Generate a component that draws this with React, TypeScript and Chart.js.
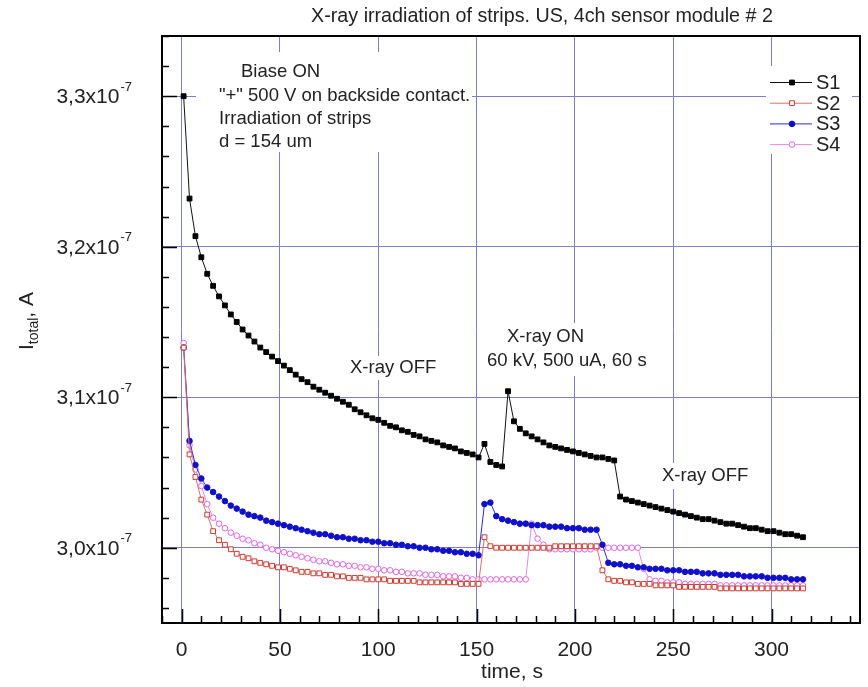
import React, { useEffect, useRef } from "react";
import { Chart, registerables } from "chart.js";

Chart.register(...registerables);

// ---------- data ----------
const TITLE = "X-ray irradiation of strips. US, 4ch sensor module # 2";
const X_TITLE = "time, s";
const X_TICKS = [0, 50, 100, 150, 200, 250, 300];
const Y_TICKS = [3.0, 3.1, 3.2, 3.3];
const Y_TICK_LABELS = ["3,0x10", "3,1x10", "3,2x10", "3,3x10"];
const Y_EXP = "-7";
const SERIES_NAMES = ["S1", "S2", "S3", "S4"];

// time, s
const TIMES = [
  1, 4, 7, 10, 13, 16, 19, 22, 25, 28,
  31, 34, 37, 40, 43, 46, 49, 52, 55, 58,
  61, 64, 67, 70, 73, 76, 79, 82, 85, 88,
  91, 94, 97, 100, 103, 106, 109, 112, 115, 118,
  121, 124, 127, 130, 133, 136, 139, 142, 145, 148,
  151, 154, 157, 160, 163, 166, 169, 172, 175, 178,
  181, 184, 187, 190, 193, 196, 199, 202, 205, 208,
  211, 214, 217, 220, 223, 226, 229, 232, 235, 238,
  241, 244, 247, 250, 253, 256, 259, 262, 265, 268,
  271, 274, 277, 280, 283, 286, 289, 292, 295, 298,
  301, 304, 307, 310, 313, 316,
];

// I_total in units of 1e-7 A
const S1 = [
  3.300, 3.232, 3.207, 3.193, 3.182, 3.174, 3.167, 3.161, 3.155, 3.150,
  3.145, 3.141, 3.137, 3.133, 3.130, 3.127, 3.124, 3.121, 3.118, 3.115,
  3.112, 3.110, 3.107, 3.105, 3.103, 3.101, 3.099, 3.097, 3.095, 3.092,
  3.090, 3.088, 3.086, 3.085, 3.083, 3.081, 3.080, 3.078, 3.077, 3.075,
  3.074, 3.072, 3.071, 3.070, 3.068, 3.067, 3.066, 3.064, 3.063, 3.062,
  3.060, 3.069, 3.057, 3.055, 3.054, 3.104, 3.084, 3.079, 3.076, 3.074,
  3.072, 3.070, 3.068, 3.067, 3.066, 3.065, 3.064, 3.063, 3.062, 3.061,
  3.060, 3.060, 3.059, 3.058, 3.034, 3.032, 3.031, 3.030, 3.029, 3.028,
  3.027, 3.026, 3.025, 3.024, 3.023, 3.022, 3.021, 3.020, 3.019, 3.019,
  3.018, 3.017, 3.016, 3.016, 3.015, 3.014, 3.013, 3.013, 3.012, 3.011,
  3.011, 3.010, 3.009, 3.009, 3.008, 3.007,
];

const S2 = [
  3.133, 3.062, 3.047, 3.032, 3.022, 3.011, 3.005, 3.002, 2.999, 2.996,
  2.994, 2.993, 2.991, 2.990, 2.989, 2.988, 2.987, 2.987, 2.986, 2.985,
  2.984, 2.984, 2.983, 2.983, 2.982, 2.982, 2.981, 2.981, 2.980, 2.980,
  2.980, 2.979, 2.979, 2.979, 2.979, 2.978, 2.978, 2.978, 2.978, 2.978,
  2.977, 2.977, 2.977, 2.977, 2.977, 2.977, 2.977, 2.976, 2.976, 2.976,
  2.976, 3.007, 3.001, 3.000, 3.000, 3.000, 3.000, 3.000, 3.000, 3.000,
  3.000, 3.000, 3.000, 3.001, 3.001, 3.001, 3.001, 3.001, 3.001, 3.001,
  3.001, 2.985, 2.979, 2.978, 2.978, 2.977, 2.977, 2.976, 2.976, 2.976,
  2.975, 2.975, 2.975, 2.975, 2.974, 2.974, 2.974, 2.974, 2.974, 2.974,
  2.974, 2.973, 2.973, 2.973, 2.973, 2.973, 2.973, 2.973, 2.973, 2.973,
  2.973, 2.973, 2.973, 2.973, 2.973, 2.973,
];

const S3 = [
  3.133, 3.071, 3.055, 3.046, 3.040, 3.037, 3.034, 3.031, 3.028, 3.026,
  3.024, 3.022, 3.021, 3.020, 3.018, 3.017, 3.016, 3.015, 3.014, 3.013,
  3.012, 3.011, 3.010, 3.009, 3.009, 3.008, 3.007, 3.007, 3.006, 3.006,
  3.005, 3.005, 3.004, 3.004, 3.003, 3.003, 3.002, 3.002, 3.001, 3.001,
  3.000, 3.000, 2.999, 2.999, 2.998, 2.998, 2.997, 2.997, 2.996, 2.996,
  2.995, 3.029, 3.030, 3.021, 3.019, 3.018, 3.017, 3.016, 3.016, 3.015,
  3.015, 3.015, 3.014, 3.014, 3.014, 3.013, 3.013, 3.013, 3.012, 3.012,
  3.012, 3.002, 2.990, 2.989, 2.989, 2.988, 2.988, 2.987, 2.987, 2.986,
  2.986, 2.986, 2.985, 2.985, 2.985, 2.984, 2.984, 2.984, 2.983, 2.983,
  2.983, 2.982, 2.982, 2.982, 2.982, 2.981, 2.981, 2.981, 2.981, 2.980,
  2.980, 2.980, 2.980, 2.979, 2.979, 2.979,
];

const S4 = [
  3.136, 3.068, 3.052, 3.041, 3.029, 3.020, 3.016, 3.013, 3.010, 3.008,
  3.006, 3.005, 3.003, 3.002, 3.000, 2.999, 2.998, 2.997, 2.996, 2.995,
  2.994, 2.993, 2.992, 2.991, 2.991, 2.990, 2.989, 2.989, 2.988, 2.988,
  2.987, 2.987, 2.986, 2.986, 2.985, 2.985, 2.984, 2.984, 2.983, 2.983,
  2.983, 2.982, 2.982, 2.982, 2.981, 2.981, 2.981, 2.980, 2.980, 2.979,
  2.979, 2.979, 2.979, 2.979, 2.979, 2.979, 2.979, 2.979, 2.979, 3.016,
  3.006, 3.002, 2.999, 2.999, 2.999, 2.999, 2.999, 2.999, 2.999, 2.999,
  3.000, 3.000, 3.000, 3.000, 3.000, 3.000, 3.000, 3.000, 2.986, 2.979,
  2.978, 2.978, 2.977, 2.977, 2.977, 2.976, 2.976, 2.976, 2.976, 2.976,
  2.976, 2.975, 2.975, 2.975, 2.975, 2.975, 2.975, 2.975, 2.975, 2.975,
  2.975, 2.975, 2.975, 2.975, 2.975, 2.975,
];

const NOTE_BIAS = ["Biase ON", "\"+\" 500 V on backside contact.", "Irradiation of strips", "d = 154 um"];
const NOTE_OFF_1 = ["X-ray OFF"];
const NOTE_ON = ["X-ray ON", "60 kV, 500 uA, 60 s"];
const NOTE_OFF_2 = ["X-ray OFF"];

// ---------- styles ----------
const FONT = '"Liberation Sans", Arial, Helvetica, sans-serif';
const TEXT = "#222222";
const GRID = "#7e7ec8";

type Style = { color: string; line: string; shape: "rect" | "circle"; fill: string; r: number };
const STYLES: Style[] = [
  { color: "#000000", line: "#111111", shape: "rect", fill: "#000000", r: 3.4 },
  { color: "#c83a30", line: "#d87068", shape: "rect", fill: "#ffffff", r: 3.4 },
  { color: "#1010c8", line: "#2a2ad0", shape: "circle", fill: "#1010c8", r: 2.8 },
  { color: "#dd66dd", line: "#e48ae4", shape: "circle", fill: "#ffffff", r: 2.8 },
];

function drawMarker(ctx: CanvasRenderingContext2D, x: number, y: number, s: Style) {
  ctx.beginPath();
  if (s.shape === "rect") {
    const h = s.r * Math.SQRT1_2;
    ctx.rect(x - h, y - h, 2 * h, 2 * h);
  } else {
    ctx.arc(x, y, s.r, 0, Math.PI * 2);
  }
  ctx.fillStyle = s.fill;
  ctx.fill();
  ctx.lineWidth = 1;
  ctx.strokeStyle = s.color;
  ctx.stroke();
}

const decor = {
  id: "decor",
  beforeDatasetsDraw(chart: any) {
    const ctx: CanvasRenderingContext2D = chart.ctx;
    ctx.save();
    const boxes: [number, number, number, number][] = [
      [196, 52, 276, 100],
      [345, 356, 100, 24],
      [484, 323, 178, 53],
      [657, 463, 104, 26],
    ];
    ctx.fillStyle = "#ffffff";
    for (const b of boxes) ctx.fillRect(b[0], b[1], b[2], b[3]);

    ctx.fillStyle = TEXT;
    ctx.textBaseline = "middle";
    ctx.textAlign = "left";
    ctx.font = `18.5px ${FONT}`;
    ctx.fillText(NOTE_BIAS[0], 241, 72);
    ctx.fillText(NOTE_BIAS[1], 219, 96);
    ctx.fillText(NOTE_BIAS[2], 219, 119);
    ctx.fillText(NOTE_BIAS[3], 219, 142);
    ctx.fillText(NOTE_OFF_1[0], 350, 368);
    ctx.fillText(NOTE_ON[0], 507, 337);
    ctx.fillText(NOTE_ON[1], 487, 361);
    ctx.fillText(NOTE_OFF_2[0], 662, 476);
    ctx.restore();
  },
  afterDraw(chart: any) {
    const ctx: CanvasRenderingContext2D = chart.ctx;
    const { left, right, top, bottom } = chart.chartArea;
    const xs = chart.scales.x;
    const ys = chart.scales.y;
    ctx.save();

    // legend
    ctx.fillStyle = "#ffffff";
    ctx.fillRect(766, 66, 86, 88);
    SERIES_NAMES.forEach((name, i) => {
      const y = 82.5 + i * 20.7;
      const s = STYLES[i];
      ctx.strokeStyle = s.line;
      ctx.lineWidth = 1;
      ctx.beginPath();
      ctx.moveTo(770, y);
      ctx.lineTo(812, y);
      ctx.stroke();
      drawMarker(ctx, 792, y, s);
      ctx.fillStyle = TEXT;
      ctx.font = `20px ${FONT}`;
      ctx.textBaseline = "middle";
      ctx.textAlign = "left";
      ctx.fillText(name, 816, y + 1);
    });

    // frame
    ctx.strokeStyle = "#000000";
    ctx.lineWidth = 2;
    ctx.strokeRect(left, top, right - left, bottom - top);

    // ticks (inward)
    ctx.lineWidth = 1.5;
    ctx.beginPath();
    for (let v = -10; v <= 340; v += 10) {
      const x = Math.round(xs.getPixelForValue(v)) + 0.5;
      const len = v % 50 === 0 ? 14 : 7;
      ctx.moveTo(x, bottom);
      ctx.lineTo(x, bottom - len);
    }
    for (let k = 148; k <= 167; k++) {
      const v = k * 0.02;
      const y = Math.round(ys.getPixelForValue(v)) + 0.5;
      const len = k % 5 === 0 ? 15 : 7;
      ctx.moveTo(left, y);
      ctx.lineTo(left + len, y);
    }
    ctx.stroke();

    // x tick labels
    ctx.fillStyle = TEXT;
    ctx.font = `21px ${FONT}`;
    ctx.textAlign = "center";
    ctx.textBaseline = "middle";
    X_TICKS.forEach((v) => ctx.fillText(String(v), xs.getPixelForValue(v), 650));

    // y tick labels with exponent
    Y_TICKS.forEach((v, i) => {
      const y = ys.getPixelForValue(v);
      ctx.font = `13px ${FONT}`;
      const ew = ctx.measureText(Y_EXP).width;
      const xr = 131 - ew;
      ctx.textAlign = "left";
      ctx.textBaseline = "middle";
      ctx.fillText(Y_EXP, xr + 1, y - 9);
      ctx.font = `21px ${FONT}`;
      ctx.textAlign = "right";
      ctx.fillText(Y_TICK_LABELS[i], xr, y + 1);
    });

    // x title
    ctx.font = `21px ${FONT}`;
    ctx.textAlign = "center";
    ctx.textBaseline = "middle";
    ctx.fillText(X_TITLE, 512, 672);

    // y title: I_total, A
    ctx.save();
    ctx.translate(33, 321);
    ctx.rotate(-Math.PI / 2);
    ctx.textAlign = "left";
    ctx.textBaseline = "alphabetic";
    ctx.font = `21px ${FONT}`;
    const wI = ctx.measureText("I").width;
    const wA = ctx.measureText(", A").width;
    ctx.font = `14px ${FONT}`;
    const wSub = ctx.measureText("total").width;
    const total = wI + wSub + wA;
    let x0 = -total / 2;
    ctx.font = `21px ${FONT}`;
    ctx.fillText("I", x0, 0);
    x0 += wI;
    ctx.font = `14px ${FONT}`;
    ctx.fillText("total", x0, 5);
    x0 += wSub;
    ctx.font = `21px ${FONT}`;
    ctx.fillText(", A", x0, 0);
    ctx.restore();

    // title
    ctx.font = `19.7px ${FONT}`;
    ctx.textAlign = "center";
    ctx.textBaseline = "middle";
    ctx.fillStyle = TEXT;
    ctx.fillText(TITLE, 542, 17);

    ctx.restore();
  },
};

export default function App() {
  const ref = useRef<HTMLCanvasElement | null>(null);

  useEffect(() => {
    if (!ref.current) return;
    const seriesValues = [S1, S2, S3, S4];
    const datasets = seriesValues.map((vals, i) => {
      const s = STYLES[i];
      return {
        label: SERIES_NAMES[i],
        data: TIMES.map((t, j) => ({ x: t, y: vals[j] })),
        borderColor: s.line,
        borderWidth: 1,
        pointStyle: s.shape,
        pointRadius: s.r,
        pointBorderColor: s.color,
        pointBackgroundColor: s.fill,
        pointBorderWidth: 1,
        pointHoverRadius: s.r,
        tension: 0,
        fill: false,
      };
    });

    const chart = new Chart(ref.current, {
      type: "line",
      data: { datasets } as any,
      options: {
        animation: false,
        responsive: false,
        devicePixelRatio: 1,
        layout: { padding: { left: 162, right: 8, top: 36, bottom: 64 } },
        plugins: {
          legend: { display: false },
          title: { display: false },
          tooltip: { enabled: false },
        },
        scales: {
          x: {
            type: "linear",
            min: -10,
            max: 345,
            afterBuildTicks: (s: any) => {
              s.ticks = X_TICKS.map((v) => ({ value: v }));
            },
            ticks: { display: false },
            grid: { color: GRID, lineWidth: 1, drawTicks: false },
            border: { display: false },
          },
          y: {
            type: "linear",
            min: 2.95,
            max: 3.34,
            afterBuildTicks: (s: any) => {
              s.ticks = Y_TICKS.map((v) => ({ value: v }));
            },
            ticks: { display: false },
            grid: { color: GRID, lineWidth: 1, drawTicks: false },
            border: { display: false },
          },
        },
      } as any,
      plugins: [decor],
    });
    return () => chart.destroy();
  }, []);

  return (
    <div style={{ position: "absolute", left: 0, top: 0, width: 868, height: 687, background: "#fff" }}>
      <canvas ref={ref} width={868} height={687} style={{ width: 868, height: 687, display: "block" }} />
    </div>
  );
}
